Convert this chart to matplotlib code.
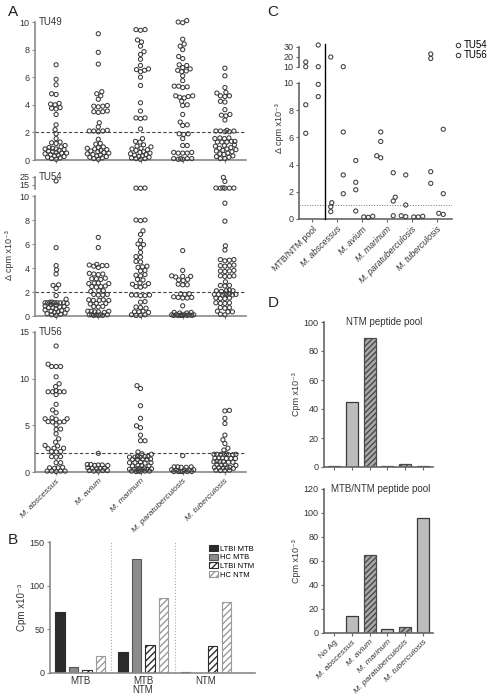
import numpy as np
import matplotlib
matplotlib.use('Agg')
import matplotlib.pyplot as plt
from matplotlib.lines import Line2D
from matplotlib import transforms

plt.rcParams['font.family'] = ['Liberation Sans', 'DejaVu Sans']
plt.rcParams['hatch.linewidth'] = 1.0

species = ['M. abscessus', 'M. avium', 'M. marinum', 'M. paratuberculosis', 'M. tuberculosis']

# panel A, TU49
ab49 = [6.9, 5.85, 5.45, 4.8, 4.75, 4.1, 4.05, 4.0, 3.8, 3.75, 3.7, 3.3, 2.55, 2.2, 1.9, 1.55, 1.3, 1.25, 1.2, 1.05,
        0.95, 0.9, 0.85, 0.8, 0.8, 0.75, 0.7, 0.65, 0.6, 0.55, 0.5, 0.5, 0.45, 0.4, 0.35, 0.3, 0.25, 0.2, 0.15, 0.1, 0.05]
av49 = [9.15, 7.8, 6.95, 4.95, 4.8, 4.65, 4.4, 3.95, 3.9, 3.9, 3.85, 3.55, 3.5, 3.5, 3.45, 2.7, 2.4, 2.15, 2.1, 2.1,
        2.05, 2.1, 1.5, 1.2, 1.15, 0.95, 0.9, 0.85, 0.8, 0.75, 0.7, 0.65, 0.6, 0.55, 0.5, 0.45, 0.4, 0.35, 0.3, 0.25,
        0.2, 0.15, 0.1, 0.05]
ma49 = [9.45, 9.4, 9.45, 8.7, 8.55, 8.25, 7.85, 7.65, 7.3, 6.85, 6.55, 6.5, 6.6, 6.4, 6.0, 5.4, 4.15, 3.55, 3.05, 3.0,
        3.05, 2.25, 1.55, 1.35, 1.3, 1.1, 1.0, 0.95, 0.85, 0.8, 0.75, 0.7, 0.6, 0.55, 0.5, 0.45, 0.4, 0.35, 0.3, 0.25,
        0.2, 0.15, 0.1, 0.1, 0.05]
pa49 = [10.1, 10.0, 9.95, 8.75, 8.4, 8.25, 8.0, 7.5, 7.35, 6.9, 6.85, 6.7, 6.5, 6.45, 6.4, 6.6, 6.1, 5.75, 5.35, 5.3,
        5.35, 5.25, 4.65, 4.6, 4.65, 4.55, 4.5, 4.25, 4.0, 3.95, 3.3, 2.75, 2.55, 2.5, 1.9, 1.85, 1.9, 1.55, 1.05, 1.05,
        0.55, 0.5, 0.5, 0.55, 0.5, 0.1, 0.1, 0.05, 0.1, 0.05, 0.1]
tb49 = [6.65, 6.1, 5.25, 4.9, 4.85, 4.65, 4.6, 4.65, 4.25, 4.2, 3.65, 3.3, 3.25, 3.2, 2.9, 2.1, 2.1, 2.05, 2.15, 2.1,
        2.05, 1.6, 1.55, 1.6, 1.55, 1.35, 1.3, 1.35, 1.3, 1.3, 1.1, 1.05, 1.0, 0.9, 0.85, 0.8, 0.75, 0.7, 0.65, 0.6,
        0.5, 0.45, 0.4, 0.3, 0.25, 0.2, 0.1, 0.1]

# panel A, TU54 (values above 10 go to the upper broken segment)
ab54 = [20, 5.7, 4.2, 3.85, 3.5, 2.6, 2.55, 2.3, 1.7, 1.4, 1.15, 1.1, 1.1, 1.1, 1.05, 1.1, 1.15, 1.1, 1.1, 0.95,
        0.9, 0.85, 0.8, 0.75, 0.7, 0.7, 0.6, 0.55, 0.5, 0.45, 0.4, 0.35, 0.3, 0.25, 0.2, 0.15, 0.1, 0.05]
av54 = [6.55, 5.7, 4.25, 4.2, 4.2, 4.15, 4.3, 4.05, 3.55, 3.5, 3.5, 3.45, 3.1, 3.1, 3.05, 3.15, 2.75, 2.7, 2.7, 2.75,
        2.45, 2.5, 2.45, 2.4, 2.1, 2.1, 2.05, 1.8, 1.75, 1.8, 1.75, 1.35, 1.3, 1.35, 1.3, 1.3, 1.05, 1.0, 1.05, 0.8,
        0.75, 0.8, 0.4, 0.35, 0.4, 0.35, 0.3, 0.4, 0.1, 0.1, 0.05, 0.1, 0.05, 0.1, 0.1, 0.05]
ma54 = [11.2, 11.0, 11.1, 8.0, 7.95, 8.0, 7.1, 6.8, 6.3, 6.0, 5.95, 5.7, 5.3, 4.95, 4.9, 4.5, 4.55, 4.1, 4.15, 4.05,
        3.8, 3.75, 3.4, 3.45, 3.35, 3.05, 3.0, 2.7, 2.75, 2.65, 2.45, 2.5, 2.4, 1.75, 1.7, 1.75, 1.7, 1.75, 1.2, 1.15,
        0.7, 0.65, 0.75, 0.35, 0.4, 0.3, 0.35, 0.1, 0.05, 0.1, 0.05]
pa54 = [5.45, 3.8, 3.35, 3.3, 3.25, 3.3, 3.0, 2.95, 3.05, 2.6, 2.65, 2.6, 1.85, 1.8, 1.85, 1.55, 1.5, 1.55, 1.6, 1.5,
        0.85, 0.3, 0.25, 0.3, 0.25, 0.1, 0.05, 0.1, 0.05, 0.1, 0.05, 0.1, 0.05, 0.1, 0.05, 0.1, 0.05]
tb54 = [24.5, 19.5, 11.2, 11.0, 11.1, 11.0, 11.2, 11.5, 9.4, 7.9, 5.85, 5.5, 4.7, 4.65, 4.6, 4.7, 4.2, 4.25, 4.2, 4.15,
        3.75, 3.8, 3.7, 3.75, 3.35, 3.3, 3.3, 3.35, 2.85, 2.55, 2.5, 2.55, 2.1, 2.1, 2.05, 2.15, 2.1, 1.8, 1.85, 1.8,
        1.75, 1.8, 1.85, 1.8, 1.75, 1.45, 1.5, 1.45, 1.5, 1.1, 1.05, 1.1, 1.05, 0.7, 0.65, 0.7, 0.35, 0.4, 0.35, 0.15, 0.1]

# panel A, TU56
ab56 = [13.5, 11.55, 11.3, 11.3, 11.3, 10.2, 9.45, 9.15, 8.7, 8.6, 8.6, 8.6, 8.6, 8.3, 7.25, 6.65, 6.35, 5.8, 5.7, 5.65,
        5.7, 5.4, 5.35, 5.4, 5.35, 5.05, 4.6, 4.55, 4.1, 3.55, 3.2, 2.85, 2.8, 2.55, 2.5, 2.55, 2.2, 2.15, 2.2, 1.65,
        1.6, 1.65, 1.0, 1.0, 0.45, 0.5, 0.45, 0.4, 0.1, 0.1, 0.05, 0.1, 0.1]
av56 = [2.0, 0.75, 0.8, 0.7, 0.75, 0.8, 0.7, 0.4, 0.45, 0.4, 0.35, 0.4, 0.15, 0.1, 0.15, 0.1, 0.15]
ma56 = [9.25, 8.95, 7.1, 5.75, 4.95, 4.75, 3.95, 3.35, 3.35, 2.15, 1.9, 1.95, 1.65, 1.6, 1.65, 1.6, 1.65, 1.6, 1.35, 1.4,
        1.35, 1.4, 1.35, 1.0, 1.05, 1.0, 0.95, 1.0, 0.7, 0.65, 0.7, 0.65, 0.35, 0.3, 0.35, 0.3, 0.35, 0.3, 0.35, 0.3,
        0.1, 0.1, 0.05, 0.1, 0.05, 0.1]
pa56 = [1.75, 0.55, 0.5, 0.55, 0.5, 0.55, 0.2, 0.25, 0.2, 0.25, 0.2, 0.05, 0.05, 0.05, 0.05, 0.05, 0.05]
tb56 = [6.55, 6.6, 5.75, 5.2, 3.95, 3.45, 3.05, 2.55, 2.35, 1.9, 1.9, 1.85, 1.9, 1.95, 1.9, 1.85, 1.9, 1.45, 1.5, 1.45,
        1.5, 1.45, 1.5, 1.1, 1.05, 1.1, 1.15, 1.1, 1.05, 0.75, 0.7, 0.75, 0.8, 0.45, 0.5, 0.45, 0.4, 0.5, 0.45, 0.2,
        0.15, 0.2, 0.15]

# panel B
b_groups = ['MTB', 'MTB\nNTM', 'NTM']
b_series = ['LTBI MTB', 'HC MTB', 'LTBI NTM', 'HC NTM']
b_ltbi_mtb = [70, 24, 0.8]
b_hc_mtb = [7, 130, 0.5]
b_ltbi_ntm = [3, 32, 31]
b_hc_ntm = [19, 86, 81]

# panel C
c_cats = ['MTB/NTM pool'] + species
c_tu54 = [[10.3, 15, 8.4, 6.3], [20, 1.2, 0.9, 0.54], [4.3, 2.7, 2.15, 0.59], [6.4, 5.7, 4.5, 4.65],
          [3.24, 1.03, 0.17, 0.24], [18.5, 23, 3.48, 2.62]]
c_tu56 = [[32, 10.3, 9.9, 9.0], [10.3, 6.4, 3.24, 1.86], [0.15, 0.12, 0.2], [3.4, 1.6, 1.32, 0.24],
          [0.15, 0.15, 0.2], [6.6, 1.86, 0.34, 0.42]]

# panel D
d_cats = ['No Ag'] + species
d_ntm = [0.5, 45, 89, 0.8, 2, 0.7]
d_mtbntm = [0.3, 14, 65, 3, 5, 96]
d_hatched = [False, False, True, False, True, False]

W, H = 491, 698
fig = plt.figure(figsize=(W / 100, H / 100), dpi=100)
TXT = '#333333'


def add_ax(x0, y0, x1, y1):
    return fig.add_axes([x0 / W, 1 - y1 / H, (x1 - x0) / W, (y1 - y0) / H])


def style(ax, spine='#8a8a8a', bottom=True):
    ax.spines['top'].set_visible(False)
    ax.spines['right'].set_visible(False)
    ax.spines['left'].set_color(spine)
    ax.spines['left'].set_linewidth(1.2)
    ax.spines['bottom'].set_color(spine)
    ax.spines['bottom'].set_linewidth(1.2)
    if not bottom:
        ax.spines['bottom'].set_visible(False)
        ax.tick_params(axis='x', bottom=False, labelbottom=False)
    ax.tick_params(labelsize=6.5, colors=TXT, length=2.5, width=0.8, pad=1.5)
    ax.tick_params(color=spine)
    ax.patch.set_alpha(0)


def swarm(ax, xc, vals, d=4.2, half=11.0):
    # beeswarm in pixel space; past the half width the points may overlap
    pts = ax.transData.transform(np.column_stack([np.full(len(vals), xc), vals]))
    order = np.argsort(pts[:, 1])
    placed = []
    out = pts.copy()
    flip = 1
    cands = []
    for off in np.arange(0, half + 0.01, 0.5):
        cands += [off, -off] if off > 0 else [0.0]
    for i in order:
        px, py = pts[i]
        best, best_gap = px, -1
        for c in cands:
            cx = px + c * flip
            if placed:
                gap = min(np.hypot(cx - qx, py - qy) for qx, qy in placed)
            else:
                gap = 99
            if gap >= d:
                best = cx
                break
            if gap > best_gap + 0.3:
                best, best_gap = cx, gap
        flip = -flip
        placed.append((best, py))
        out[i] = (best, py)
    return ax.transData.inverted().transform(out)


def dots(ax, xc, vals, half=11.0):
    if len(vals) == 0:
        return
    xy = swarm(ax, xc, vals, half=half)
    ax.scatter(xy[:, 0], xy[:, 1], s=9, facecolors='none', edgecolors='#3c3c3c',
               linewidths=0.75, clip_on=False, zorder=3)


# ---------------- panel A ----------------
cols49 = [ab49, av49, ma49, pa49, tb49]
cols54 = [ab54, av54, ma54, pa54, tb54]
cols56 = [ab56, av56, ma56, pa56, tb56]
xs = np.arange(len(species))

a1 = add_ax(35, 22, 246, 160)
a1.set_xlim(-0.5, 4.5)
a1.set_ylim(0, 10)
style(a1)
a1.set_yticks([0, 2, 4, 6, 8, 10])
a1.set_xticks(xs)
a1.set_xticklabels([])
a1.axhline(2, color='#444', lw=0.8, ls=(0, (3, 2)), zorder=1)
for i, v in enumerate(cols49):
    dots(a1, i, v)
a1.text(0.02, 1.0, 'TU49', transform=a1.transAxes, fontsize=7, color=TXT, va='center')

a2 = add_ax(35, 196, 246, 316)
a2.set_xlim(-0.5, 4.5)
a2.set_ylim(0, 10)
style(a2)
a2.set_yticks([0, 2, 4, 6, 8, 10])
a2.set_xticks(xs)
a2.set_xticklabels([])
a2.axhline(2, color='#444', lw=0.8, ls=(0, (3, 2)), zorder=1)
a2t = add_ax(35, 177, 246, 189)
a2t.set_xlim(-0.5, 4.5)
a2t.set_ylim(10, 25)
style(a2t, bottom=False)
a2t.set_yticks([15, 25])
for i, v in enumerate(cols54):
    dots(a2, i, [x for x in v if x <= 10])
    dots(a2t, i, [x for x in v if x > 10])
a2t.text(0.02, 1.0, 'TU54', transform=a2t.transAxes, fontsize=7, color=TXT, va='center')

a3 = add_ax(35, 332, 246, 472)
a3.set_xlim(-0.5, 4.5)
a3.set_ylim(0, 15)
style(a3)
a3.set_yticks([0, 5, 10, 15])
a3.set_xticks(xs)
a3.set_xticklabels(species, rotation=45, ha='right', va='top', rotation_mode='anchor',
                   style='italic', fontsize=6)
a3.axhline(2, color='#444', lw=0.8, ls=(0, (3, 2)), zorder=1)
for i, v in enumerate(cols56):
    dots(a3, i, v)
a3.text(0.02, 1.0, 'TU56', transform=a3.transAxes, fontsize=7, color=TXT, va='center')

fig.text(10 / W, 1 - 255 / H, 'Δ cpm x10⁻³', rotation=90, fontsize=6.5, color=TXT, ha='center', va='center')

# ---------------- panel B ----------------
ab = add_ax(50, 542, 255, 673)
gx = np.arange(len(b_groups))
bw = 0.15
step = 0.215
b_vals = [b_ltbi_mtb, b_hc_mtb, b_ltbi_ntm, b_hc_ntm]
b_face = ['#2b2b2b', '#8c8c8c', 'white', 'white']
b_edge = ['#2b2b2b', '#555555', '#2b2b2b', '#9a9a9a']
b_hatch = [None, None, '/////', '/////']
for k in range(4):
    ab.bar(gx + (k - 1.5) * step, b_vals[k], width=bw, color=b_face[k], edgecolor=b_edge[k],
           hatch=b_hatch[k], linewidth=0.8, label=b_series[k], zorder=2)
ab.set_xlim(-0.48, 2.78)
ab.set_ylim(0, 150)
style(ab)
ab.set_yticks([0, 50, 100, 150])
ab.set_xticks(gx)
ab.set_xticklabels(b_groups, fontsize=7, linespacing=0.95)
ab.tick_params(axis='x', length=0, pad=2)
for xv in [0.49, 1.51]:
    ab.axvline(xv, color='#aaaaaa', lw=0.8, ls=':', zorder=1)
ab.set_ylabel('Cpm x10⁻³', fontsize=7, color=TXT, labelpad=2)
ab.legend(loc='upper right', bbox_to_anchor=(1.03, 1.03), frameon=False, fontsize=5.5,
          handlelength=1.1, handleheight=0.8, handletextpad=0.3, labelspacing=0.15)

# ---------------- panel C ----------------
cb = add_ax(299, 83, 452, 219)
ct = add_ax(299, 47, 452, 67)
for ax in (cb, ct):
    ax.set_xlim(-0.52, 5.6)
cb.set_ylim(0, 10)
ct.set_ylim(10, 30)
style(cb, spine='#666666')
style(ct, spine='#666666', bottom=False)
cb.set_yticks([0, 2, 4, 6, 8, 10])
ct.set_yticks([10, 20, 30])
cx = np.arange(len(c_cats))
cb.set_xticks(cx)
cb.set_xticklabels(c_cats, rotation=45, ha='right', va='top', rotation_mode='anchor', fontsize=6.3)
for lab in cb.get_xticklabels()[1:]:
    lab.set_style('italic')
cb.axhline(1, color='#777', lw=0.7, ls=':', zorder=1)
for i in range(len(c_cats)):
    for off, grp in ((-0.25, c_tu54[i]), (0.25, c_tu56[i])):
        dots(cb, i + off, [x for x in grp if x <= 10], half=5)
        dots(ct, i + off, [x for x in grp if x > 10], half=5)
sep = transforms.blended_transform_factory(cb.transData, fig.transFigure)
fig.add_artist(Line2D([0.5, 0.5], [1 - 219 / H, 1 - 44 / H], transform=sep, color='black', lw=1.0))
fig.text(279 / W, 1 - 128 / H, 'Δ cpm x10⁻³', rotation=90, fontsize=6.5, color=TXT, ha='center', va='center')
hnd = [Line2D([], [], marker='o', ls='none', markersize=3.2, markerfacecolor='none',
              markeredgecolor='#3c3c3c', markeredgewidth=0.75) for _ in range(2)]
fig.legend(hnd, ['TU54', 'TU56'], loc='upper left', bbox_to_anchor=(455 / W, 1 - 40 / H), frameon=False,
           fontsize=7, handlelength=0.6, handletextpad=0.3, labelspacing=0.05, borderaxespad=0, borderpad=0)

# ---------------- panel D ----------------
dx = np.arange(len(d_cats))
dt = add_ax(324, 322, 433, 467)
dbm = add_ax(324, 489, 433, 633)
for ax, vals, top in ((dt, d_ntm, 100), (dbm, d_mtbntm, 120)):
    for i in range(len(d_cats)):
        if d_hatched[i]:
            ax.bar(dx[i], vals[i], width=0.67, color='#a9a9a9', edgecolor='#4a4a4a', hatch='//////',
                   linewidth=0.9, zorder=2)
        else:
            ax.bar(dx[i], vals[i], width=0.67, color='#bdbdbd', edgecolor='#3a3a3a', linewidth=0.9, zorder=2)
    ax.set_xlim(-0.56, 5.56)
    ax.set_ylim(0, top)
    style(ax, spine='#666666')
    ax.set_yticks(np.arange(0, top + 1, 20))
    ax.set_xticks(dx)
    ax.set_ylabel('Cpm x10⁻³', fontsize=6.5, color=TXT, labelpad=2)
dt.set_xticklabels([])
dbm.set_xticklabels(d_cats, rotation=45, ha='right', va='top', rotation_mode='anchor', fontsize=6)
for lab in dbm.get_xticklabels()[1:]:
    lab.set_style('italic')
dt.text(0.2, 1.0, 'NTM peptide pool', transform=dt.transAxes, fontsize=7, color=TXT, va='center')
dbm.text(0.06, 1.0, 'MTB/NTM peptide pool', transform=dbm.transAxes, fontsize=7, color=TXT, va='center')

# panel letters
for lx, ly, t in ((8, 12, 'A'), (8, 540, 'B'), (267, 12, 'C'), (268, 303, 'D')):
    fig.text(lx / W, 1 - ly / H, t, fontsize=11, color='#222', va='center', ha='left')

fig.savefig('out.png', dpi=100)
